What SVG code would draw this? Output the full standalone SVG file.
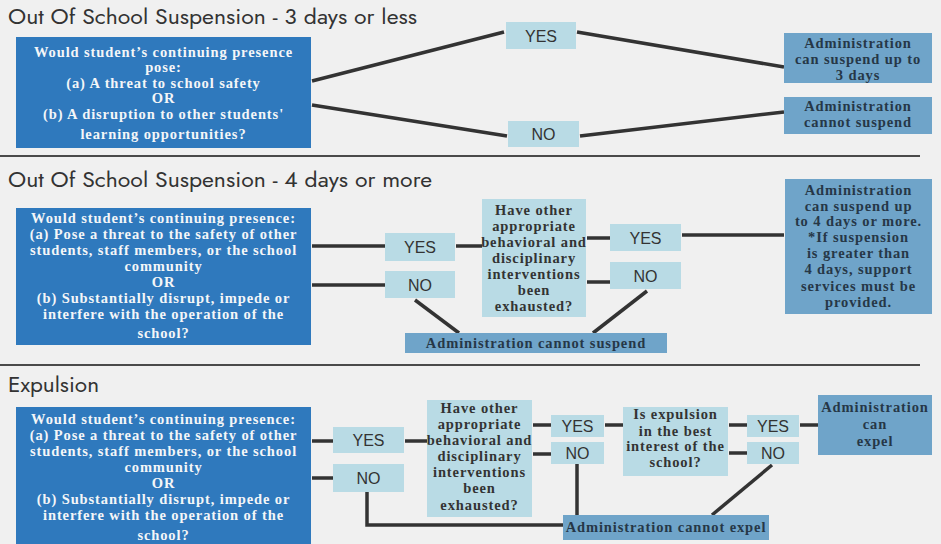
<svg xmlns="http://www.w3.org/2000/svg" width="941" height="544" viewBox="0 0 941 544">
<defs>
<style>
.bg{fill:#f0f0f0}
.title{font-family:"Jost","Liberation Sans",Arial,sans-serif;font-size:20px;fill:#333}
.q{fill:#2f79bd}
.qt{font-family:"Liberation Serif","Times New Roman",serif;font-weight:bold;font-size:14.5px;letter-spacing:0.9px;fill:#f4f6f8;text-anchor:middle}
.lb{fill:#b9dbe5}
.lbt{font-family:"Liberation Serif","Times New Roman",serif;font-weight:bold;font-size:14.5px;letter-spacing:0.9px;fill:#333;text-anchor:middle}
.yn{font-family:"Liberation Sans",Arial,sans-serif;font-size:16px;fill:#333;text-anchor:middle}
.r{fill:#6fa4c9}
.rt{font-family:"Liberation Serif","Times New Roman",serif;font-weight:bold;font-size:14.5px;letter-spacing:0.9px;fill:#263747;text-anchor:middle}
.c{stroke:#333;stroke-width:3.5;fill:none}
.div{stroke:#4a4a4a;stroke-width:2}
</style>
</defs>
<rect class="bg" x="0" y="0" width="941" height="544"/>

<text class="title" x="8" y="24" textLength="409" lengthAdjust="spacingAndGlyphs">Out Of School Suspension - 3 days or less</text>
<text class="title" x="8" y="187" textLength="424" lengthAdjust="spacingAndGlyphs">Out Of School Suspension - 4 days or more</text>
<text class="title" x="8" y="392" textLength="91" lengthAdjust="spacingAndGlyphs">Expulsion</text>
<line class="div" x1="0" y1="156" x2="920" y2="156"/>
<line class="div" x1="0" y1="365" x2="920" y2="365"/>

<g id="connectors">
<line class="c" x1="312" y1="81" x2="504" y2="32"/>
<line class="c" x1="577" y1="32" x2="784" y2="67"/>
<line class="c" x1="312" y1="105" x2="507" y2="136"/>
<line class="c" x1="580" y1="136" x2="784" y2="112"/>

<line class="c" x1="312" y1="246" x2="385" y2="246"/>
<line class="c" x1="312" y1="285" x2="385" y2="285"/>
<line class="c" x1="456" y1="246" x2="482" y2="246"/>
<line class="c" x1="587" y1="238" x2="610" y2="238"/>
<line class="c" x1="587" y1="282" x2="610" y2="282"/>
<line class="c" x1="682" y1="235" x2="784" y2="235"/>
<line class="c" x1="415" y1="300" x2="459" y2="333"/>
<line class="c" x1="647" y1="291" x2="593" y2="333"/>

<line class="c" x1="312" y1="441" x2="333" y2="441"/>
<line class="c" x1="312" y1="478" x2="333" y2="478"/>
<line class="c" x1="405" y1="441" x2="427" y2="441"/>
<line class="c" x1="533" y1="425" x2="551" y2="425"/>
<line class="c" x1="533" y1="454" x2="551" y2="454"/>
<line class="c" x1="605" y1="425" x2="623" y2="425"/>
<line class="c" x1="729" y1="425" x2="747" y2="425"/>
<line class="c" x1="729" y1="453" x2="747" y2="453"/>
<line class="c" x1="800" y1="425" x2="818" y2="425"/>
<polyline class="c" points="367,492 367,525 563,525"/>
<line class="c" x1="577" y1="464" x2="577" y2="515"/>
<line class="c" x1="772" y1="465" x2="712" y2="515"/>
</g>

<g id="s1-question">
<rect class="q" x="16" y="37" width="295" height="111"/>
<text class="qt" x="163.5" y="57">Would student’s continuing presence</text>
<text class="qt" x="163.5" y="72">pose:</text>
<text class="qt" x="163.5" y="88">(a) A threat to school safety</text>
<text class="qt" x="163.5" y="103">OR</text>
<text class="qt" x="163.5" y="119">(b) A disruption to other students'</text>
<text class="qt" x="163.5" y="139">learning opportunities?</text>
</g>
<g id="s1-yes"><rect class="lb" x="506" y="22" width="70" height="27"/><text class="yn" x="541" y="41.5">YES</text></g>
<g id="s1-no"><rect class="lb" x="508" y="121" width="71" height="26"/><text class="yn" x="543.5" y="140">NO</text></g>
<g id="s1-can">
<rect class="r" x="784" y="33" width="148" height="50"/>
<text class="rt" x="858" y="48">Administration</text>
<text class="rt" x="858" y="64">can suspend up to</text>
<text class="rt" x="858" y="80">3 days</text>
</g>
<g id="s1-cannot">
<rect class="r" x="784" y="97" width="148" height="37"/>
<text class="rt" x="858" y="111">Administration</text>
<text class="rt" x="858" y="127">cannot suspend</text>
</g>

<g id="s2-question">
<rect class="q" x="16" y="208" width="295" height="137"/>
<text class="qt" x="163.5" y="223">Would student’s continuing presence:</text>
<text class="qt" x="163.5" y="239">(a) Pose a threat to the safety of other</text>
<text class="qt" x="163.5" y="255">students, staff members, or the school</text>
<text class="qt" x="163.5" y="271">community</text>
<text class="qt" x="163.5" y="287">OR</text>
<text class="qt" x="163.5" y="303">(b) Substantially disrupt, impede or</text>
<text class="qt" x="163.5" y="319">interfere with the operation of the</text>
<text class="qt" x="163.5" y="338">school?</text>
</g>
<g id="s2-yes"><rect class="lb" x="385" y="233" width="70" height="28"/><text class="yn" x="420" y="253">YES</text></g>
<g id="s2-no"><rect class="lb" x="385" y="271" width="70" height="27"/><text class="yn" x="420" y="290.5">NO</text></g>
<g id="s2-interventions">
<rect class="lb" x="482" y="199" width="104" height="118"/>
<text class="lbt" x="534" y="215">Have other</text>
<text class="lbt" x="534" y="231">appropriate</text>
<text class="lbt" x="534" y="247">behavioral and</text>
<text class="lbt" x="534" y="263">disciplinary</text>
<text class="lbt" x="534" y="279">interventions</text>
<text class="lbt" x="534" y="295">been</text>
<text class="lbt" x="534" y="311">exhausted?</text>
</g>
<g id="s2-yes2"><rect class="lb" x="610" y="224" width="71" height="27"/><text class="yn" x="645.5" y="243.5">YES</text></g>
<g id="s2-no2"><rect class="lb" x="610" y="262" width="71" height="27"/><text class="yn" x="645.5" y="281.5">NO</text></g>
<g id="s2-can">
<rect class="r" x="785" y="179" width="147" height="135"/>
<text class="rt" x="858.5" y="195">Administration</text>
<text class="rt" x="858.5" y="211">can suspend up</text>
<text class="rt" x="858.5" y="226">to 4 days or more.</text>
<text class="rt" x="858.5" y="242">*If suspension</text>
<text class="rt" x="858.5" y="258">is greater than</text>
<text class="rt" x="858.5" y="274">4 days, support</text>
<text class="rt" x="858.5" y="291">services must be</text>
<text class="rt" x="858.5" y="307">provided.</text>
</g>
<g id="s2-cannot">
<rect class="r" x="405" y="333" width="262" height="20"/>
<text class="rt" x="536" y="348">Administration cannot suspend</text>
</g>

<g id="s3-question">
<rect class="q" x="16" y="407" width="295" height="140"/>
<text class="qt" x="163.5" y="424">Would student’s continuing presence:</text>
<text class="qt" x="163.5" y="440">(a) Pose a threat to the safety of other</text>
<text class="qt" x="163.5" y="456">students, staff members, or the school</text>
<text class="qt" x="163.5" y="472">community</text>
<text class="qt" x="163.5" y="488">OR</text>
<text class="qt" x="163.5" y="504">(b) Substantially disrupt, impede or</text>
<text class="qt" x="163.5" y="520">interfere with the operation of the</text>
<text class="qt" x="163.5" y="540">school?</text>
</g>
<g id="s3-yes"><rect class="lb" x="333" y="427" width="71" height="26"/><text class="yn" x="368.5" y="446">YES</text></g>
<g id="s3-no"><rect class="lb" x="333" y="464" width="71" height="28"/><text class="yn" x="368.5" y="484">NO</text></g>
<g id="s3-interventions">
<rect class="lb" x="427" y="400" width="105" height="117"/>
<text class="lbt" x="479.5" y="413">Have other</text>
<text class="lbt" x="479.5" y="429">appropriate</text>
<text class="lbt" x="479.5" y="445">behavioral and</text>
<text class="lbt" x="479.5" y="461">disciplinary</text>
<text class="lbt" x="479.5" y="477">interventions</text>
<text class="lbt" x="479.5" y="493">been</text>
<text class="lbt" x="479.5" y="510">exhausted?</text>
</g>
<g id="s3-yes2"><rect class="lb" x="551" y="415" width="53" height="22"/><text class="yn" x="577.5" y="432">YES</text></g>
<g id="s3-no2"><rect class="lb" x="551" y="442" width="53" height="22"/><text class="yn" x="577.5" y="459">NO</text></g>
<g id="s3-interest">
<rect class="lb" x="623" y="407" width="105" height="69"/>
<text class="lbt" x="675.5" y="419">Is expulsion</text>
<text class="lbt" x="675.5" y="436">in the best</text>
<text class="lbt" x="675.5" y="451">interest of the</text>
<text class="lbt" x="675.5" y="467">school?</text>
</g>
<g id="s3-yes3"><rect class="lb" x="747" y="415" width="52" height="22"/><text class="yn" x="773" y="432">YES</text></g>
<g id="s3-no3"><rect class="lb" x="747" y="442" width="52" height="22"/><text class="yn" x="773" y="459">NO</text></g>
<g id="s3-can">
<rect class="r" x="818" y="395" width="114" height="60"/>
<text class="rt" x="875" y="412">Administration</text>
<text class="rt" x="875" y="429">can</text>
<text class="rt" x="875" y="446">expel</text>
</g>
<g id="s3-cannot">
<rect class="r" x="563" y="515" width="206" height="25"/>
<text class="rt" x="666" y="532">Administration cannot expel</text>
</g>
</svg>
